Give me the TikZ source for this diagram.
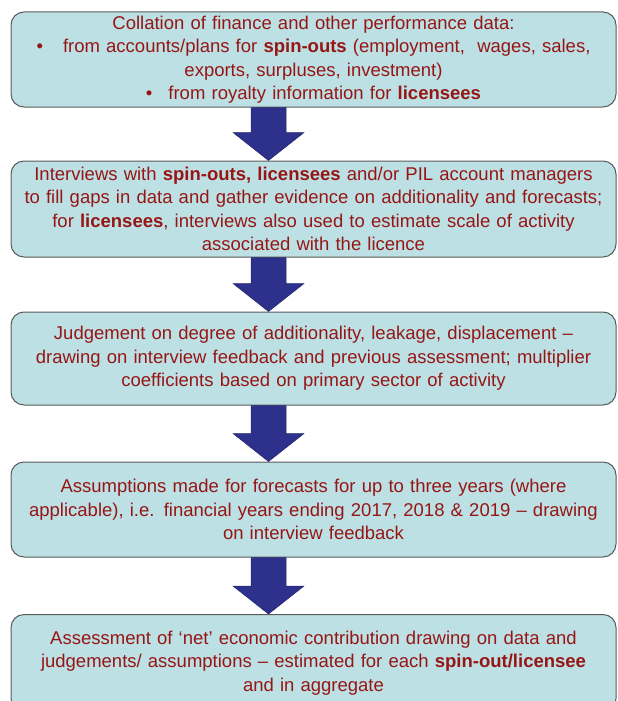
\documentclass[tikz,border=0pt]{standalone}
\usepackage{fontspec}
\setmainfont{Liberation Sans}
\usetikzlibrary{calc}

\definecolor{boxFill}{RGB}{188,224,227}
\definecolor{boxLine}{RGB}{90,90,90}
\definecolor{textRed}{RGB}{150,22,22}
\definecolor{arrowBlue}{RGB}{46,49,140}

\tikzset{
  stage/.style={draw=boxLine, line width=1pt, fill=boxFill, rounded corners=13pt,
    minimum width=605pt, text width=596pt, align=center, inner sep=0pt,
    text=textRed, font=\fontsize{18.5}{23.5}\selectfont},
  flow/.style={fill=arrowBlue, draw=arrowBlue!75!black, line width=0.5pt}
}

\begin{document}
\begin{tikzpicture}[x=1pt, y=1pt, yscale=-1]
    \useasboundingbox (0,0) rectangle (618,701);

    % Define the positions of the boxes
    \coordinate (collatePos) at (313.5, 59.5);
    \coordinate (interviewPos) at (313.5, 209);
    \coordinate (judgePos) at (313.5, 358.5);
    \coordinate (assumePos) at (313.5, 509.5);
    \coordinate (assessPos) at (313.5, 663);
    \coordinate (axis) at (268.5, 0);

    % Draw the boxes
    \node[stage, minimum height=95pt] (collate) at (collatePos)
      {Collation of finance and other performance data:\\
       \textbullet\hspace{20pt}from accounts/plans for \textbf{spin-outs} (employment,\ \ wages, sales,\\
       exports,\ surpluses,\ investment)\\
       \textbullet\hspace{16pt}from royalty information for \textbf{licensees}};
    \node[stage, minimum height=96pt] (interview) at (interviewPos)
      {Interviews with \textbf{spin-outs, licensees} and/or PIL account managers\\
       to fill gaps in data and gather evidence on additionality and forecasts;\\
       for \textbf{licensees}, interviews also used to estimate scale of activity\\
       associated with the licence};
    \node[stage, minimum height=93pt] (judge) at (judgePos)
      {Judgement on degree of additionality, leakage, displacement –\\
       drawing on interview feedback and previous assessment;\ multiplier\\
       coefficients based on primary sector of activity};
    \node[stage, minimum height=95pt] (assume) at (assumePos)
      {Assumptions made for forecasts for up to three years (where\\
       applicable), i.e. financial years ending 2017, 2018 \& 2019 – drawing\\
       on interview feedback};
    \node[stage, minimum height=97pt] (assess) at (assessPos)
      {Assessment of ‘net’ economic contribution drawing on data and\\
       judgements/\ assumptions – estimated for each \textbf{spin-out/licensee}\\
       and in aggregate};

    % Draw the arrows
    \foreach \from/\to in {collate/interview, interview/judge, judge/assume, assume/assess}
      \draw[flow] ($(\from.south -| axis)+(-17.5,0)$) -- ($(\from.south -| axis)+(17.5,0)$)
        -- ($(\to.north -| axis)+(17.5,-28)$) -- ($(\to.north -| axis)+(35.5,-28)$)
        -- (\to.north -| axis) -- ($(\to.north -| axis)+(-35.5,-28)$)
        -- ($(\to.north -| axis)+(-17.5,-28)$) -- cycle;
\end{tikzpicture}
\end{document}
